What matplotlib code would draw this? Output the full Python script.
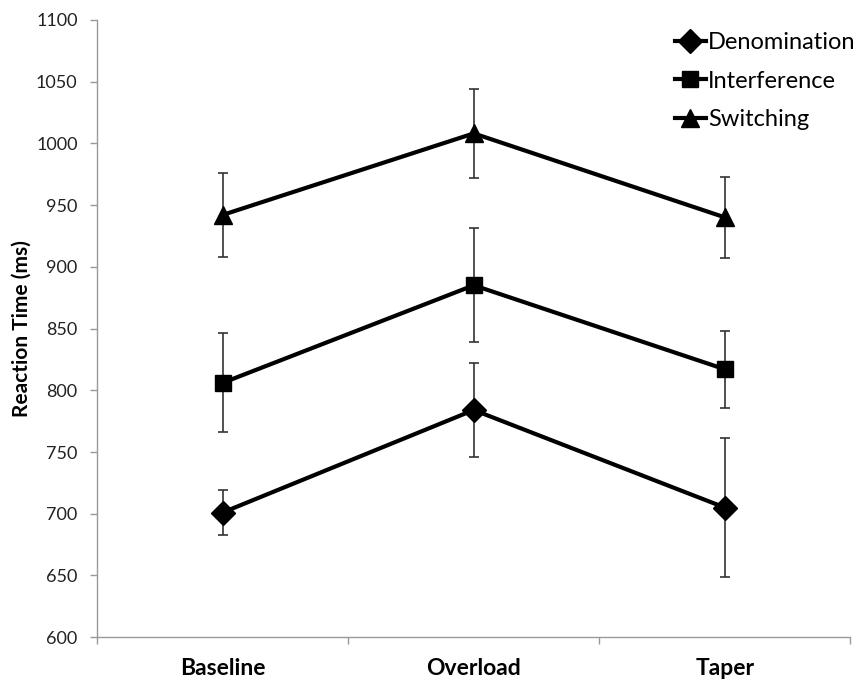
import matplotlib
matplotlib.use("Agg")
import matplotlib.pyplot as plt

categories = ["Baseline", "Overload", "Taper"]
series_names = ["Denomination", "Interference", "Switching"]
denomination = [701, 784, 705]
denomination_err = [18, 38, 56]
interference = [806, 885, 817]
interference_err = [40, 46, 31]
switching = [942, 1008, 940]
switching_err = [34, 36, 33]
yticks = [600, 650, 700, 750, 800, 850, 900, 950, 1000, 1050, 1100]

plt.rcParams['font.family'] = ['Lato', 'DejaVu Sans']

fig = plt.figure(figsize=(8.59, 6.83), dpi=100)
ax = fig.add_axes([0.113, 0.067, 0.877, 0.904])

x = list(range(len(categories)))
data = [(denomination, denomination_err, 'D', 12),
        (interference, interference_err, 's', 11),
        (switching, switching_err, '^', 13)]
for name, (vals, errs, mk, ms) in zip(series_names, data):
    ax.errorbar(x, vals, yerr=errs, fmt='none', ecolor='#333333',
                elinewidth=1.2, capsize=3.5, capthick=1.2, zorder=2)
    ax.plot(x, vals, color='black', linewidth=3, marker=mk, markersize=ms,
            label=name, zorder=3)

ax.set_xlim(-0.5, 2.5)
ax.set_ylim(600, 1100)
ax.set_yticks(yticks)
ax.set_yticklabels([str(v) for v in yticks], fontsize=13, color='#222222')
ax.set_xticks(x)
ax.set_xticklabels(categories, fontsize=16.5, fontweight='bold')
ax.set_xticks([-0.5, 0.5, 1.5, 2.5], minor=True)
ax.tick_params(axis='x', which='major', length=0, pad=15)
ax.tick_params(axis='x', which='minor', length=5, color='#999999', width=1)
ax.tick_params(axis='y', length=5, color='#999999', width=1, pad=9)
ax.set_ylabel("Reaction Time (ms)", fontsize=15, fontweight='bold', labelpad=3)

for s in ['top', 'right']:
    ax.spines[s].set_visible(False)
for s in ['left', 'bottom']:
    ax.spines[s].set_color('#999999')
    ax.spines[s].set_linewidth(1)

leg = ax.legend(loc='upper right', frameon=False, fontsize=17,
                handlelength=1.3, handletextpad=0.1, labelspacing=0.75,
                bbox_to_anchor=(1.035, 1.015), markerscale=1.0)

fig.savefig("out.png", dpi=100)
